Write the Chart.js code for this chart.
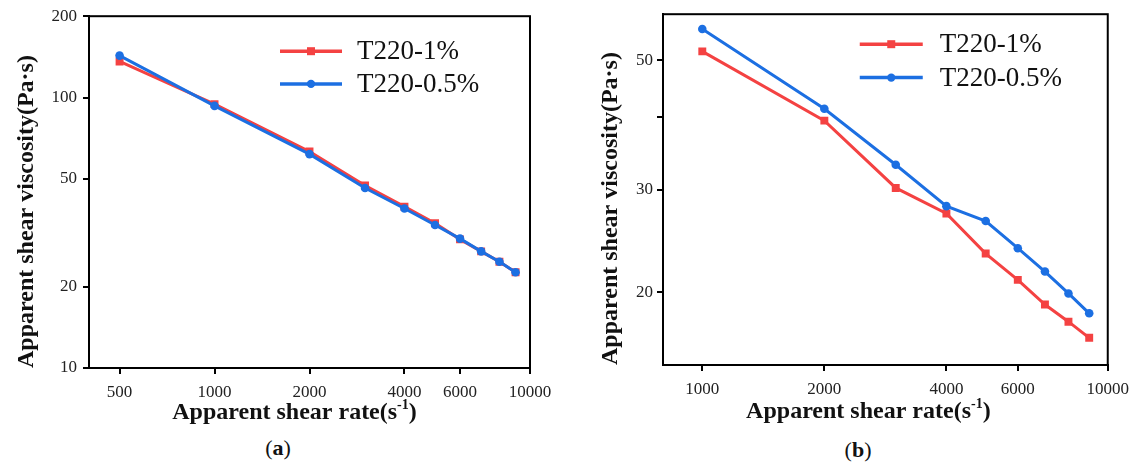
<!DOCTYPE html>
<html><head><meta charset="utf-8">
<script src="https://cdn.jsdelivr.net/npm/chart.js@4.4.1/dist/chart.umd.min.js"></script>
<style>
html,body{margin:0;padding:0;background:#fff;}
#wrap{position:relative;width:1137px;height:464px;overflow:hidden;background:#fff;}
.pane{position:absolute;top:0;height:432px;}
#pa{left:0;width:570px;}
#pb{left:570px;width:567px;}
.cap{position:absolute;font-family:"Liberation Serif",serif;font-size:22px;color:#111;transform:translate(-50%,-50%);white-space:nowrap;}
</style></head><body>
<div id="wrap">
<div class="pane" id="pa"><canvas id="ca"></canvas></div>
<div class="pane" id="pb"><canvas id="cb"></canvas></div>
<div class="cap" style="left:278px;top:448px">(<b>a</b>)</div>
<div class="cap" style="left:858px;top:450px">(<b>b</b>)</div>
</div>
<script>
// ---------- data ----------
const seriesNames = ['T220-1%', 'T220-0.5%'];
const ratesA = [500, 1000, 2000, 3000, 4000, 5000, 6000, 7000, 8000, 9000];
const viscA_1 = [136, 94.6, 63.2, 47.3, 39.5, 34.3, 29.9, 27.0, 24.7, 22.6];
const viscA_05 = [143, 93.2, 61.8, 46.3, 38.9, 33.8, 30.1, 27.0, 24.7, 22.6];
const ratesB = [1000, 2000, 3000, 4000, 5000, 6000, 7000, 8000, 9000];
const viscB_1 = [51.8, 39.4, 30.2, 27.3, 23.3, 21.0, 19.05, 17.8, 16.7];
const viscB_05 = [56.6, 41.3, 33.1, 28.1, 26.5, 23.8, 21.7, 19.9, 18.4];
const xTicksA = [500, 1000, 2000, 4000, 6000, 10000];
const yTicksA = [10, 20, 50, 100, 200];
const yLabelsA = [10, 20, 50, 100, 200];
const xTicksB = [1000, 2000, 4000, 6000, 10000];
const yTicksB = [20, 30, 40, 50];
const yLabelsB = [20, 30, 50];
const xTitleText = 'Apparent shear rate(s';
const xTitleSup = '-1';
const xTitleClose = ')';
const yTitleText = 'Apparent shear viscosity(Pa·s)';

// ---------- styles ----------
const RED = '#f44242';
const BLUE = '#1c6fe2';
const SERIF = '"Liberation Serif", "Times New Roman", serif';

const plotBox = {
  id: 'plotBox',
  afterDraw(chart) {
    const a = chart.chartArea, ctx = chart.ctx;
    ctx.save();
    ctx.strokeStyle = '#000';
    ctx.lineWidth = 2;
    ctx.strokeRect(a.left, a.top, a.right - a.left, a.bottom - a.top);
    ctx.restore();
  }
};

const lineLegend = {
  id: 'lineLegend',
  afterDraw(chart, args, opts) {
    const ctx = chart.ctx, a = chart.chartArea;
    ctx.save();
    opts.order.forEach((di, row) => {
      const ds = chart.data.datasets[di];
      const y = a.top + opts.rows[row];
      const x0 = a.right - opts.fromRight;
      const x1 = x0 + opts.len;
      ctx.strokeStyle = ds.borderColor;
      ctx.lineWidth = 3.5;
      ctx.beginPath(); ctx.moveTo(x0, y); ctx.lineTo(x1, y); ctx.stroke();
      ctx.fillStyle = ds.borderColor;
      const xm = (x0 + x1) / 2;
      if (ds.pointStyle === 'rect') {
        ctx.fillRect(xm - 4, y - 4, 8, 8);
      } else {
        ctx.beginPath(); ctx.arc(xm, y, 4.2, 0, Math.PI * 2); ctx.fill();
      }
      ctx.fillStyle = '#111';
      ctx.font = '27px ' + SERIF;
      ctx.textBaseline = 'middle';
      ctx.textAlign = 'left';
      ctx.fillText(ds.label, x1 + opts.gap, y + 1);
    });
    ctx.restore();
  }
};

const xTitlePlugin = {
  id: 'xTitle',
  afterDraw(chart, args, opts) {
    const ctx = chart.ctx, a = chart.chartArea;
    ctx.save();
    ctx.fillStyle = '#111';
    const bigF = 'bold 24px ' + SERIF, smallF = 'bold 14px ' + SERIF;
    ctx.font = bigF; const w1 = ctx.measureText(xTitleText).width;
    const w3 = ctx.measureText(xTitleClose).width;
    ctx.font = smallF; const w2 = ctx.measureText(xTitleSup).width;
    const total = w1 + w2 + w3;
    let x = (a.left + a.right) / 2 + opts.dx - total / 2;
    const y = opts.y;
    ctx.textBaseline = 'middle';
    ctx.textAlign = 'left';
    ctx.font = bigF; ctx.fillText(xTitleText, x, y); x += w1;
    ctx.font = smallF; ctx.fillText(xTitleSup, x, y - 8); x += w2;
    ctx.font = bigF; ctx.fillText(xTitleClose, x, y);
    ctx.restore();
  }
};

function makeChart(id, rates, v1, v05, cfg) {
  const ctx = document.getElementById(id);
  return new Chart(ctx, {
    type: 'line',
    data: {
      datasets: [
        { label: seriesNames[0], data: rates.map((r, i) => ({ x: r, y: v1[i] })),
          borderColor: RED, backgroundColor: RED, pointBackgroundColor: RED, pointBorderColor: RED,
          pointStyle: 'rect', pointRadius: 5.6, pointBorderWidth: 0, borderWidth: 3, tension: 0, order: 1 },
        { label: seriesNames[1], data: rates.map((r, i) => ({ x: r, y: v05[i] })),
          borderColor: BLUE, backgroundColor: BLUE, pointBackgroundColor: BLUE, pointBorderColor: BLUE,
          pointStyle: 'circle', pointRadius: 4.3, pointBorderWidth: 0, borderWidth: 3, tension: 0, order: 0 }
      ]
    },
    options: {
      responsive: true, maintainAspectRatio: false, animation: false, devicePixelRatio: 1,
      layout: { padding: { top: cfg.padTop, right: cfg.padRight, left: 0, bottom: 0 } },
      plugins: {
        legend: { display: false }, tooltip: { enabled: false },
        lineLegend: cfg.legend,
        xTitle: cfg.xTitle
      },
      scales: {
        x: {
          type: 'logarithmic', min: cfg.xMin, max: cfg.xMax,
          afterBuildTicks: s => { s.ticks = cfg.xTicks.map(v => ({ value: v })); },
          afterFit: s => { s.height = cfg.xHeight; },
          ticks: { autoSkip: false, maxRotation: 0, padding: cfg.xTickPad, color: '#222',
                   font: { family: SERIF, size: 17 }, callback: v => cfg.xTicks.includes(v) ? String(v) : '' },
          grid: { display: true, drawOnChartArea: false, drawTicks: true, tickLength: 6, color: '#000', lineWidth: 2 },
          border: { display: true, color: '#000', width: 2 }
        },
        y: {
          type: 'logarithmic', min: cfg.yMin, max: cfg.yMax,
          afterBuildTicks: s => { s.ticks = cfg.yTicks.map(v => ({ value: v })); },
          afterFit: s => { s.width = cfg.yWidth; },
          ticks: { autoSkip: false, padding: cfg.yTickPad, color: '#222',
                   font: { family: SERIF, size: 17 }, callback: v => cfg.yLabels.includes(v) ? String(v) : '' },
          grid: { display: true, drawOnChartArea: false, drawTicks: true, tickLength: 6, color: '#000', lineWidth: 2 },
          border: { display: true, color: '#000', width: 2 },
          title: { display: true, text: yTitleText, align: 'start', color: '#111',
                   font: { family: SERIF, size: 24, weight: 'bold' }, padding: { top: cfg.yTitlePad, bottom: 0 } }
        }
      }
    },
    plugins: [plotBox, lineLegend, xTitlePlugin]
  });
}

makeChart('ca', ratesA, viscA_1, viscA_05, {
  xMin: 400, xMax: 10000, yMin: 10, yMax: 200,
  xTicks: xTicksA, yTicks: yTicksA, yLabels: yLabelsA,
  padTop: 15, padRight: 40, yWidth: 89, xHeight: 64, xTickPad: 8, yTickPad: 6, yTitlePad: 12,
  legend: { order: [0, 1], rows: [35, 67.7], fromRight: 250, len: 62, gap: 15 },
  xTitle: { dx: -15, y: 413 }
});
makeChart('cb', ratesB, viscB_1, viscB_05, {
  xMin: 800, xMax: 10000, yMin: 15, yMax: 60,
  xTicks: xTicksB, yTicks: yTicksB, yLabels: yLabelsB,
  padTop: 9, padRight: 27, yWidth: 93, xHeight: 67, xTickPad: 8, yTickPad: 4, yTitlePad: 26,
  legend: { order: [0, 1], rows: [30, 63.4], fromRight: 248, len: 63, gap: 17 },
  xTitle: { dx: -17, y: 412 }
});
</script>
</body></html>
